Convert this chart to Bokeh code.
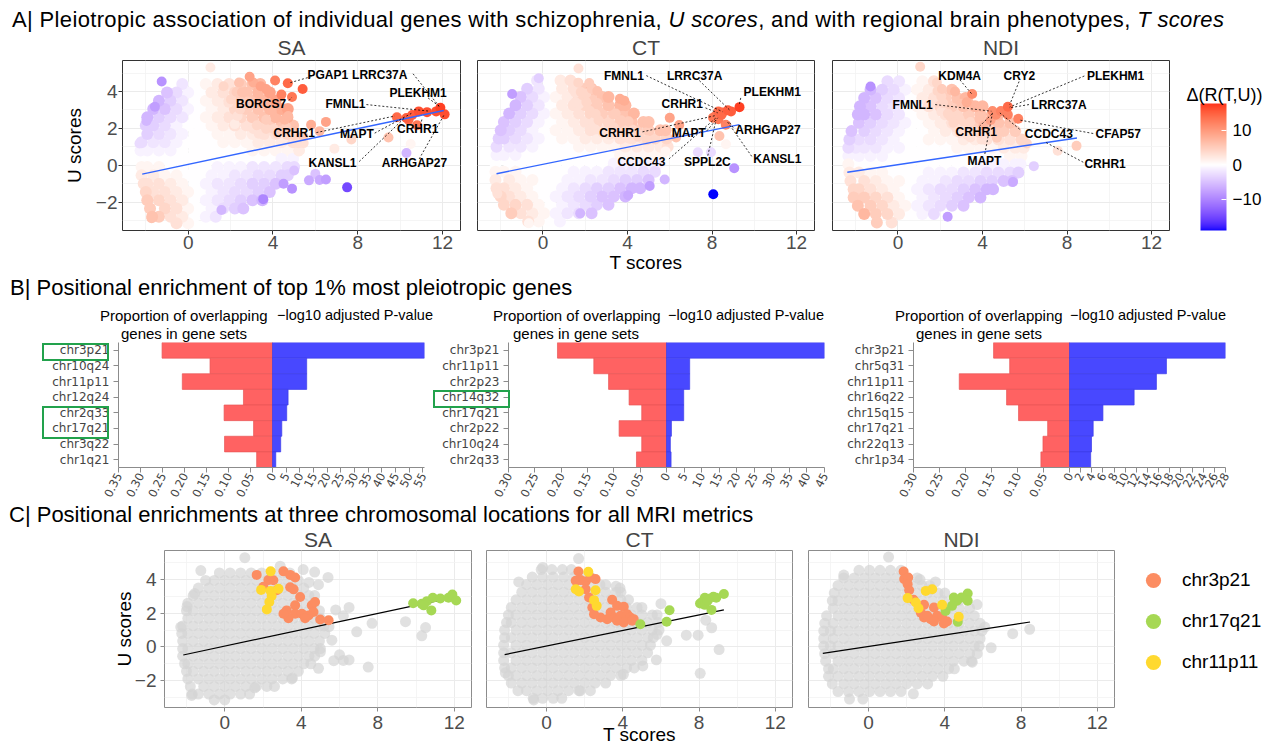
import math
from bokeh.plotting import figure
from bokeh.models import (Range1d, FactorRange, FixedTicker, ColumnDataSource,
                          LinearColorMapper, ColorBar, Legend, LegendItem, Div, Label)
from bokeh.layouts import column, row
from bokeh.core.properties import value
from bokeh.embed import file_html
from bokeh.resources import INLINE

FONT = "Liberation Sans"

# ---------------------------------------------------------------- data: SA
sa_rows_U = [4.4, 3.95, 3.5, 3.05, 2.6, 2.15, 1.7, 1.25, 0.8, 0.35, -0.1, -0.55, -1.0, -1.45, -1.9, -2.35, -2.8, -3.15]
sa_rows_T = [
    [-0.28, 0.28, 0.83, 1.38, 1.93, 2.48, 3.03, 3.4],
    [-1.0, -0.55, 0.0, 0.55, 1.1, 1.65, 2.2, 2.75, 3.3, 3.85],
    [-1.38, -0.83, -0.28, 0.28, 0.83, 1.38, 1.93, 2.48, 3.03, 3.58, 4.13],
    [-1.65, -1.1, -0.55, 0.0, 0.55, 1.1, 1.65, 2.2, 2.75, 3.3, 3.85, 4.4, 4.7],
    [-1.93, -1.38, -0.83, -0.28, 0.28, 0.83, 1.38, 1.93, 2.48, 3.03, 3.58, 4.13, 4.68],
    [-2.0, -1.65, -1.1, -0.55, 0.0, 0.55, 1.1, 1.65, 2.2, 2.75, 3.3, 3.85, 4.4, 4.95],
    [-1.93, -1.38, -0.83, -0.28, 0.28, 0.83, 1.38, 1.93, 2.48, 3.03, 3.58, 4.13, 4.68, 5.0],
    [-2.2, -1.65, -1.1, -0.55, 0.0, 0.55, 1.1, 1.65, 2.2, 2.75, 3.3, 3.85, 4.4, 4.95, 5.2],
    [-2.25, -1.93, -1.38, -0.83, -0.28, 0.28, 0.83, 1.38, 1.93, 2.48, 3.03, 3.58, 4.13, 4.68, 5.23],
    [-2.2, -1.65, -1.1, -0.55, 0.0, 0.55, 1.1, 1.65, 2.2, 2.75, 3.3, 3.85, 4.4, 4.95],
    [-2.2, -1.93, -1.38, -0.83, -0.28, 0.28, 0.83, 1.38, 1.93, 2.48, 3.03, 3.58, 4.13, 4.68, 5.0],
    [-2.2, -1.65, -1.1, -0.55, 0.0, 0.55, 1.1, 1.65, 2.2, 2.75, 3.3, 3.85, 4.4, 4.7],
    [-2.1, -1.93, -1.38, -0.83, -0.28, 0.28, 0.83, 1.38, 1.93, 2.48, 3.03, 3.58, 4.13],
    [-2.0, -1.65, -1.1, -0.55, 0.0, 0.55, 1.1, 1.65, 2.2, 2.75, 3.3, 3.85],
    [-1.93, -1.38, -0.83, -0.28, 0.28, 0.83, 1.38, 1.93, 2.48, 3.03, 3.5],
    [-1.8, -1.1, -0.55, 0.0, 0.55, 1.1, 1.65, 2.2, 2.6],
    [-1.7, -1.38, -0.83, -0.28, 0.28, 0.83, 1.3],
    [-0.55, 0.0],
]
sa_rows_D = [
    [-2, 0, 1, 2, 3, 5, 6, 7],
    [-5, -3, -1, 0, 2, 3, 4, 6, 7, 9],
    [-6, -4, -2, 0, 1, 2, 3, 5, 6, 7, 9],
    [-6, -5, -3, -1, 0, 1, 2, 4, 5, 6, 7, 8, 9],
    [-6, -4, -3, -2, 0, 1, 2, 3, 4, 5, 6, 7, 8],
    [-4, -4, -3, -1, 0, 0, 1, 2, 3, 3, 4, 5, 6, 6],
    [-4, -3, -2, -1, 0, 0, 1, 1, 2, 2, 3, 3, 4, 4],
    [-3, -2, -2, -1, 0, 0, 0, 1, 1, 1, 2, 2, 2, 3, 3],
    [-1, -1, -1, -1, 0, 0, 0, 0, 0, 0, 1, 1, 1, 1, 2],
    [0, 0, 0, 0, 0, 0, 0, 0, 0, 0, 0, 0, -1, -1],
    [1, 1, 1, 0, 0, 0, 0, -1, -1, -1, -2, -2, -2, -3, -3],
    [2, 2, 1, 1, 0, 0, -1, -1, -2, -2, -3, -3, -4, -4],
    [3, 3, 3, 2, 1, 0, -1, -2, -2, -3, -4, -4, -5],
    [4, 3, 3, 2, 1, 0, -1, -2, -3, -3, -4, -5],
    [5, 4, 3, 2, 0, -1, -2, -3, -4, -5, -6],
    [5, 4, 3, 1, 0, -1, -3, -4, -5],
    [6, 5, 3, 2, 0, -1, -2],
    [3, 1],
]
sa_x_T = [1.05, -1.25, 2.9, 4.1, 4.7, 5.4, 4.4, 4.9, 5.8, 6.5, 6.2, 7.7, 9.45, 10.5, 10.3, 7.5,
          5.7, 6.0, 6.5, 6.2, 4.9, 4.5, 3.54, 1.57, 5.0, -1.73, -2.3, -1.97, -1.57, 6.9, 5.45, 5.6]
sa_x_U = [5.3, 4.54, 4.8, 4.6, 4.45, 4.13, 3.83, 3.7, 2.2, 2.35, 1.85, 1.4, 1.5, 1.15, 0.66, -1.2,
          -0.82, -0.47, -0.77, -0.8, -1.27, -1.0, -1.84, -2.43, -0.29, -2.88, 1.18, 2.4, 3.17, 0.9, 1.2, 0.4]
sa_x_D = [2, -9, 9, 12, 14, 15, 12, 13, 8, 9, 7, 4, 6, 1, -6, -15,
          -7, -5, -8, -7, -9, -8, -10, -6, -5, 6, -3, -6, -8, 2, 3, 0]
sa_chr3_T = [1.67, 2.28, 3.07, 3.42, 3.68, 2.02, 2.54, 2.72, 3.42, 3.6, 3.94, 3.68, 3.24, 3.68, 4.03, 4.55, 4.72, 4.64, 4.38, 4.2, 4.99, 5.43, 3.33, 3.07]
sa_chr3_U = [4.28, 3.97, 4.49, 4.28, 4.13, 3.57, 3.96, 3.37, 3.55, 3.42, 2.97, 2.47, 2.17, 1.97, 1.97, 2.47, 2.67, 2.07, 1.87, 1.71, 1.63, 1.58, 1.71, 1.97]
sa_chr3_D = [4, 5, 8, 9, 9, 4, 6, 5, 7, 7, 7, 5, 4, 4, 4, 7, 7, 5, 5, 4, 4, 5, 3, 3]
sa_chr17_T = [9.85, 10.3, 10.57, 10.88, 11.27, 11.7, 11.9, 12.1, 10.8, 10.4]
sa_chr17_U = [2.6, 2.56, 2.72, 2.92, 2.88, 2.92, 3.12, 2.76, 2.17, 2.47]
sa_chr17_D = [14, 15, 15, 16, 16, 16, 17, 16, 13, 14]
sa_chr11_T = [1.9, 2.4, 2.45, 2.33, 2.81, 2.2, 2.4]
sa_chr11_U = [3.39, 3.33, 3.03, 2.67, 3.45, 2.23, 4.49]
sa_chr11_D = [3, 4, 4, 3, 5, 2, 6]
sa_fit_T = [-2.17, 12.06]
sa_fit_U = [-0.48, 2.97]
sa_lab = ["PGAP1", "LRRC37A", "PLEKHM1", "BORCS7", "FMNL1", "CRHR1", "MAPT", "CRHR1", "KANSL1", "ARHGAP27"]
sa_lab_T = [6.59, 9.04, 10.85, 3.44, 7.42, 5.0, 7.96, 10.83, 6.81, 10.68]
sa_lab_U = [4.9, 4.9, 3.92, 3.33, 3.33, 1.77, 1.72, 1.95, 0.125, 0.125]
sa_seg_T0 = [5.82, 10.61, 11.32, 4.76, 8.41, 6.05, 8.8, 10.96, 8.07, 10.9]
sa_seg_U0 = [4.81, 4.96, 3.65, 3.52, 3.29, 1.77, 1.74, 2.16, 0.2, 0.34]
sa_seg_T1 = [4.73, 11.84, 11.84, 4.9, 11.4, 9.75, 10.53, 11.05, 10.22, 12.06]
sa_seg_U1 = [4.45, 3.2, 3.2, 3.7, 2.93, 2.67, 2.81, 2.58, 2.58, 2.7]

# ---------------------------------------------------------------- data: CT
ct_rows_U = [4.6, 4.15, 3.7, 3.25, 2.8, 2.35, 1.9, 1.45, 1.0, 0.55, 0.1, -0.35, -0.8, -1.25, -1.7, -2.15, -2.6, -3.05]
ct_rows_T = [
    [-0.28, 0.28, 0.83, 1.3],
    [-0.75, -0.2, 0.35, 0.9, 1.45, 2.0, 2.3],
    [-1.05, -0.5, 0.05, 0.6, 1.15, 1.7, 2.25, 2.8, 3.1],
    [-1.3, -0.75, -0.2, 0.35, 0.9, 1.45, 2.0, 2.55, 3.1, 3.65, 3.9],
    [-1.6, -1.05, -0.5, 0.05, 0.6, 1.15, 1.7, 2.25, 2.8, 3.35, 3.9, 4.3],
    [-1.85, -1.3, -0.75, -0.2, 0.35, 0.9, 1.45, 2.0, 2.55, 3.1, 3.65, 4.2, 4.75, 5.0],
    [-2.0, -1.6, -1.05, -0.5, 0.05, 0.6, 1.15, 1.7, 2.25, 2.8, 3.35, 3.9, 4.45, 5.0, 5.55, 5.8],
    [-2.1, -1.85, -1.3, -0.75, -0.2, 0.35, 0.9, 1.45, 2.0, 2.55, 3.1, 3.65, 4.2, 4.75, 5.3, 5.85],
    [-2.2, -1.6, -1.05, -0.5, 0.05, 0.6, 1.15, 1.7, 2.25, 2.8, 3.35, 3.9, 4.45, 5.0, 5.55, 5.9],
    [-2.2, -1.85, -1.3, -0.75, -0.2, 0.35, 0.9, 1.45, 2.0, 2.55, 3.1, 3.65, 4.2, 4.75, 5.3, 5.6],
    [-2.25, -1.6, -1.05, -0.5, 0.05, 0.6, 1.15, 1.7, 2.25, 2.8, 3.35, 3.9, 4.45, 5.0, 5.45],
    [-2.25, -1.85, -1.3, -0.75, -0.2, 0.35, 0.9, 1.45, 2.0, 2.55, 3.1, 3.65, 4.2, 4.75, 5.3],
    [-2.25, -1.6, -1.05, -0.5, 0.05, 0.6, 1.15, 1.7, 2.25, 2.8, 3.35, 3.9, 4.45, 5.0],
    [-2.2, -1.85, -1.3, -0.75, -0.2, 0.35, 0.9, 1.45, 2.0, 2.55, 3.1, 3.65, 4.2, 4.6],
    [-2.0, -1.6, -1.05, -0.5, 0.05, 0.6, 1.15, 1.7, 2.25, 2.8, 3.35, 3.9],
    [-1.85, -1.3, -0.75, -0.2, 0.35, 0.9, 1.45, 2.0, 2.55, 3.1],
    [-1.5, -1.05, -0.5, 0.05, 0.6, 1.15, 1.7, 2.3],
    [-0.7, -0.2, 0.35, 0.8],
]
ct_rows_D = [
    [-2, 0, 2, 3],
    [-4, -2, 0, 2, 3, 5, 6],
    [-5, -3, -1, 1, 2, 4, 5, 6, 7],
    [-6, -4, -2, 0, 2, 3, 4, 5, 6, 7, 7],
    [-6, -4, -3, -1, 1, 2, 3, 4, 5, 5, 6, 7],
    [-5, -4, -3, -1, 0, 1, 2, 3, 4, 4, 5, 6, 6, 6],
    [-5, -4, -3, -1, 0, 1, 1, 2, 3, 3, 4, 4, 5, 5, 6, 6],
    [-4, -4, -3, -2, -1, 0, 1, 1, 2, 2, 2, 3, 3, 3, 4, 4],
    [-3, -2, -2, -1, 0, 0, 0, 1, 1, 1, 1, 2, 2, 2, 2, 3],
    [-1, -1, -1, 0, 0, 0, 0, 0, 0, 0, 0, 1, 1, 1, 1, 1],
    [0, 0, 0, 0, 0, 0, 0, 0, 0, 0, -1, -1, -1, -1, -1],
    [1, 1, 1, 0, 0, 0, 0, -1, -1, -1, -2, -2, -2, -3, -3],
    [2, 2, 1, 1, 0, 0, -1, -1, -2, -2, -3, -4, -4, -5],
    [3, 3, 2, 1, 0, 0, -1, -2, -3, -4, -4, -5, -6, -6],
    [4, 3, 2, 1, 0, -1, -2, -3, -4, -5, -5, -6],
    [4, 4, 3, 1, 0, -1, -2, -3, -4, -5],
    [5, 3, 2, 1, -1, -2, -3, -5],
    [3, 1, 0, -1],
]
ct_x_T = [1.68, -1.46, -0.2, 3.64, 3.85, 6.0, 8.35, 8.66, 7.95, 7.33, 9.05, 8.06, 5.05, 4.03, 5.76, 1.76, -2.16, -0.67, 5.8, 6.3]
ct_x_U = [5.25, 3.86, 4.72, 3.6, 3.5, 2.57, 1.59, 1.14, 0.7, 0.7, -0.16, -1.57, -1.13, -1.63, -0.77, -2.61, -1.54, -3.15, 0.75, 0.36]
ct_x_D = [3, -8, -4, 8, 8, 9, 6, 1, -3, -3, -9, -19, -8, -7, -6, -6, 3, 1, 1, 0]
ct_chr3_T = [1.67, 1.53, 1.79, 2.05, 2.31, 2.57, 3.44, 3.7, 4.05, 3.36, 3.53, 3.18, 3.88, 4.23, 4.4, 4.57, 2.83, 2.49, 2.23, 2.05, 2.4, 3.7, 4.05, 4.49]
ct_chr3_U = [4.48, 3.93, 3.97, 3.89, 4.13, 4.03, 2.8, 2.44, 2.38, 2.04, 1.75, 1.65, 1.85, 1.94, 1.75, 1.65, 1.75, 1.94, 2.94, 3.43, 2.34, 1.55, 1.45, 1.55]
ct_chr3_D = [4, 3, 4, 4, 5, 6, 5, 5, 5, 4, 3, 3, 4, 4, 4, 4, 3, 3, 4, 4, 3, 3, 3, 4]
ct_chr17_T = [9.3, 8.9, 8.75, 8.5, 8.3, 8.15, 8.05, 8.3, 8.45, 8.65, 6.45, 6.3, 4.92]
ct_chr17_U = [3.15, 2.92, 2.98, 2.86, 2.92, 2.66, 2.58, 2.5, 2.74, 2.2, 2.18, 1.5, 1.35]
ct_chr17_D = [17, 15, 15, 14, 14, 13, 13, 13, 14, 12, 9, 6, 4]
ct_chr11_T = [2.19, 2.57, 1.7, 2.49, 2.63, 1.53]
ct_chr11_U = [4.46, 3.37, 3.29, 2.78, 2.44, 3.43]
ct_chr11_D = [5, 5, 3, 4, 4, 3]
ct_fit_T = [-2.2, 9.3]
ct_fit_U = [-0.46, 2.2]
ct_lab = ["FMNL1", "LRRC37A", "PLEKHM1", "CRHR1", "CRHR1", "MAPT", "ARHGAP27", "CCDC43", "SPPL2C", "KANSL1"]
ct_lab_T = [3.83, 7.18, 10.85, 6.59, 3.64, 6.9, 10.65, 4.66, 7.78, 11.09]
ct_lab_U = [4.86, 4.86, 3.95, 3.32, 1.77, 1.77, 1.91, 0.16, 0.16, 0.34]
ct_seg_T0 = [4.89, 7.4, 9.36, 7.69, 4.71, 7.75, 9.0, 5.96, 7.8, 9.88]
ct_seg_U0 = [4.86, 4.59, 3.65, 3.11, 1.81, 1.86, 2.04, 0.34, 0.52, 0.48]
ct_seg_T1 = [8.5, 8.89, 9.29, 8.27, 8.19, 8.27, 8.82, 8.19, 8.19, 8.74]
ct_seg_U1 = [2.9, 2.93, 3.29, 2.84, 2.7, 2.57, 2.34, 2.57, 2.45, 2.34]

# ---------------------------------------------------------------- data: NDI
ndi_rows_U = [4.55, 4.1, 3.65, 3.2, 2.75, 2.3, 1.85, 1.4, 0.95, 0.5, 0.05, -0.4, -0.85, -1.3, -1.75, -2.2, -2.65, -3.1]
ndi_rows_T = [
    [-0.5, 0.05, 0.6, 1.15, 1.7],
    [-1.3, -0.75, -0.2, 0.35, 0.9, 1.45, 2.0, 2.55],
    [-1.6, -1.05, -0.5, 0.05, 0.6, 1.15, 1.7, 2.25, 2.8, 3.2],
    [-1.8, -1.3, -0.75, -0.2, 0.35, 0.9, 1.45, 2.0, 2.55, 3.1, 3.65, 4.0],
    [-1.9, -1.6, -1.05, -0.5, 0.05, 0.6, 1.15, 1.7, 2.25, 2.8, 3.35, 3.9, 4.45, 4.75],
    [-1.85, -1.3, -0.75, -0.2, 0.35, 0.9, 1.45, 2.0, 2.55, 3.1, 3.65, 4.2, 4.75, 5.3],
    [-2.2, -1.6, -1.05, -0.5, 0.05, 0.6, 1.15, 1.7, 2.25, 2.8, 3.35, 3.9, 4.45, 5.0, 5.55],
    [-2.3, -1.85, -1.3, -0.75, -0.2, 0.35, 0.9, 1.45, 2.0, 2.55, 3.1, 3.65, 4.2, 4.75, 5.3, 5.85],
    [-2.35, -2.0, -1.6, -1.05, -0.5, 0.05, 0.6, 1.15, 1.7, 2.25, 2.8, 3.35, 3.9, 4.45, 5.0, 5.55, 5.95],
    [-2.35, -1.85, -1.3, -0.75, -0.2, 0.35, 0.9, 1.45, 2.0, 2.55, 3.1, 3.65, 4.2, 4.75, 5.3, 5.85],
    [-2.35, -2.0, -1.6, -1.05, -0.5, 0.05, 0.6, 1.15, 1.7, 2.25, 2.8, 3.35, 3.9, 4.45, 5.0, 5.55, 5.8],
    [-2.3, -1.85, -1.3, -0.75, -0.2, 0.35, 0.9, 1.45, 2.0, 2.55, 3.1, 3.65, 4.2, 4.75, 5.3, 5.7],
    [-2.25, -1.6, -1.05, -0.5, 0.05, 0.6, 1.15, 1.7, 2.25, 2.8, 3.35, 3.9, 4.45, 5.0, 5.4],
    [-2.1, -1.85, -1.3, -0.75, -0.2, 0.35, 0.9, 1.45, 2.0, 2.55, 3.1, 3.65, 4.2, 4.5],
    [-2.1, -1.6, -1.05, -0.5, 0.05, 0.6, 1.15, 1.7, 2.25, 2.8, 3.35, 3.9],
    [-1.9, -1.3, -0.75, -0.2, 0.35, 0.9, 1.45, 2.0, 2.55, 3.1],
    [-1.6, -1.05, -0.5, 0.05, 0.6, 1.15, 1.7],
    [-1.0, -0.3],
]
ndi_rows_D = [
    [-3, -2, 0, 1, 3],
    [-6, -4, -3, -1, 1, 2, 4, 6],
    [-6, -5, -3, -2, 0, 2, 3, 5, 6, 7],
    [-6, -5, -3, -2, 0, 1, 3, 4, 5, 6, 7, 7],
    [-6, -6, -5, -3, -2, 0, 1, 2, 3, 4, 5, 6, 7, 7],
    [-5, -4, -3, -2, -1, 0, 1, 2, 3, 4, 5, 5, 6, 6],
    [-5, -4, -3, -2, -1, 0, 0, 1, 2, 2, 3, 4, 4, 5, 5],
    [-4, -3, -3, -2, -1, 0, 0, 1, 1, 1, 2, 2, 3, 3, 3, 4],
    [-3, -2, -2, -2, -1, -1, 0, 0, 0, 0, 1, 1, 1, 1, 2, 2, 2],
    [-1, -1, -1, -1, 0, 0, 0, 0, 0, 0, 0, 0, 0, 0, 1, 1],
    [1, 0, 0, 0, 0, 0, 0, 0, 0, 0, 0, 0, -1, -1, -1, -1, -1],
    [2, 2, 1, 1, 0, 0, 0, -1, -1, -1, -2, -2, -3, -3, -3, -4],
    [3, 3, 2, 1, 1, 0, -1, -1, -2, -3, -3, -4, -4, -5, -5],
    [4, 4, 3, 2, 1, 0, -1, -2, -3, -3, -4, -5, -6, -6],
    [5, 5, 4, 3, 1, 0, -1, -2, -3, -4, -5, -6],
    [6, 5, 4, 2, 1, -1, -2, -3, -4, -5],
    [7, 5, 4, 2, 0, -1, -3],
    [5, 3],
]
ndi_x_T = [1.05, -1.3, 3.51, 5.69, 6.1, 8.45, 6.43, 5.44, 2.35, 7.56, 3.25, 2.7]
ndi_x_U = [5.34, 4.27, 3.86, 2.52, 1.18, 1.05, -0.05, -0.91, -2.79, 0.79, 3.41, 4.0]
ndi_x_D = [4, -9, 11, 12, 4, 5, -4, -7, -8, 3, 8, 7]
ndi_chr3_T = [1.84, 1.87, 2.08, 2.05, 2.13, 2.36, 2.91, 2.74, 2.91, 3.26, 3.43, 3.6, 3.86, 4.12, 3.95, 3.08, 3.43]
ndi_chr3_U = [4.48, 4.03, 4.13, 3.73, 3.37, 2.8, 2.5, 2.04, 1.75, 1.65, 2.34, 1.85, 1.75, 1.51, 1.39, 1.85, 1.51]
ndi_chr3_D = [4, 4, 5, 4, 4, 4, 4, 3, 3, 3, 4, 4, 4, 3, 3, 3, 3]
ndi_chr17_T = [5.2, 4.87, 4.47, 4.64, 4.38, 5.2, 4.04, 4.68]
ndi_chr17_U = [3.17, 2.94, 2.94, 2.74, 2.44, 2.74, 2.14, 1.49]
ndi_chr17_D = [14, 12, 11, 11, 9, 12, 7, 5]
ndi_chr11_T = [3.34, 3.0, 2.48, 2.62, 3.86, 4.73, 2.05]
ndi_chr11_U = [3.43, 3.33, 2.64, 2.3, 2.5, 1.79, 2.9]
ndi_chr11_D = [7, 6, 4, 4, 6, 5, 3]
ndi_fit_T = [-2.4, 8.47]
ndi_fit_U = [-0.38, 1.48]
ndi_lab = ["KDM4A", "CRY2", "PLEKHM1", "FMNL1", "LRRC37A", "CRHR1", "CCDC43", "CFAP57", "MAPT", "CRHR1"]
ndi_lab_T = [2.92, 5.74, 10.3, 0.69, 7.62, 3.7, 7.14, 10.42, 4.09, 9.8]
ndi_lab_U = [4.86, 4.86, 4.86, 3.29, 3.25, 1.82, 1.68, 1.72, 0.25, 0.07]
ndi_seg_T0 = [2.93, 5.73, 8.82, 1.76, 6.2, 3.84, 5.76, 9.24, 4.11, 8.77]
ndi_seg_U0 = [4.63, 4.54, 4.84, 3.29, 3.29, 2.09, 1.95, 1.72, 0.61, 0.16]
ndi_seg_T1 = [3.48, 5.29, 5.29, 4.42, 5.26, 4.5, 4.82, 5.76, 4.47, 7.01]
ndi_seg_U1 = [3.88, 3.29, 3.16, 2.93, 3.11, 2.84, 2.84, 2.45, 2.84, 1.23]

# ---------------------------------------------------------------- data: B
b_sa_loci = ["chr3p21", "chr10q24", "chr11p11", "chr12q24", "chr2q33", "chr17q21", "chr3q22", "chr1q21"]
b_sa_prop = [0.251, 0.142, 0.205, 0.066, 0.110, 0.043, 0.109, 0.036]
b_sa_logp = [55.6, 12.5, 12.5, 5.7, 5.2, 3.4, 3.0, 1.2]
b_ct_loci = ["chr3p21", "chr11p11", "chr2p23", "chr14q32", "chr17q21", "chr2p22", "chr10q24", "chr2q33"]
b_ct_prop = [0.207, 0.138, 0.110, 0.071, 0.047, 0.090, 0.047, 0.057]
b_ct_logp = [45.0, 6.6, 6.6, 4.9, 4.9, 1.4, 1.1, 1.3]
b_ndi_loci = ["chr3p21", "chr5q31", "chr11p11", "chr16q22", "chr15q15", "chr17q21", "chr22q13", "chr1p34"]
b_ndi_prop = [0.146, 0.115, 0.212, 0.121, 0.098, 0.042, 0.051, 0.055]
b_ndi_logp = [28.0, 17.4, 15.6, 11.6, 6.0, 4.25, 3.95, 3.8]
b_sa_prop_ticks = [0.35, 0.3, 0.25, 0.2, 0.15, 0.1, 0.05]
b_sa_logp_ticks = [0, 5, 10, 15, 20, 25, 30, 35, 40, 45, 50, 55]
b_ct_prop_ticks = [0.3, 0.25, 0.2, 0.15, 0.1, 0.05]
b_ct_logp_ticks = [0, 5, 10, 15, 20, 25, 30, 35, 40, 45]
b_ndi_prop_ticks = [0.3, 0.25, 0.2, 0.15, 0.1, 0.05]
b_ndi_logp_ticks = [0, 2, 4, 6, 8, 10, 12, 14, 16, 18, 20, 22, 24, 26, 28]
b_sa_marked = [["chr3p21"], ["chr2q33", "chr17q21"]]
b_ct_marked = [["chr14q32"]]

loci_names = ["chr3p21", "chr17q21", "chr11p11"]
loci_colors = ["#FC8D62", "#A6D854", "#FFD92F"]


# ---------------------------------------------------------------- colour scale (Lab interpolation)
def _lin(c):
    c = c / 255.0
    return c / 12.92 if c <= 0.04045 else ((c + 0.055) / 1.055) ** 2.4


def _gam(c):
    c = 12.92 * c if c <= 0.0031308 else 1.055 * (max(c, 0) ** (1 / 2.4)) - 0.055
    return int(round(max(0.0, min(1.0, c)) * 255))


def rgb2lab(rgb):
    r, g, b = [_lin(v) for v in rgb]
    X = (0.4124564 * r + 0.3575761 * g + 0.1804375 * b) / 0.95047
    Y = (0.2126729 * r + 0.7151522 * g + 0.0721750 * b)
    Z = (0.0193339 * r + 0.1191920 * g + 0.9503041 * b) / 1.08883
    f = lambda t: t ** (1 / 3) if t > 216 / 24389 else (24389 / 27 * t + 16) / 116
    fx, fy, fz = f(X), f(Y), f(Z)
    return (116 * fy - 16, 500 * (fx - fy), 200 * (fy - fz))


def lab2hex(L, a, b):
    fy = (L + 16) / 116
    fx = fy + a / 500
    fz = fy - b / 200
    finv = lambda t: t ** 3 if t ** 3 > 216 / 24389 else (116 * t - 16) / (24389 / 27)
    X = finv(fx) * 0.95047
    Y = finv(fy)
    Z = finv(fz) * 1.08883
    r = 3.2404542 * X - 1.5371385 * Y - 0.4985314 * Z
    g = -0.9692660 * X + 1.8760108 * Y + 0.0415560 * Z
    bb = 0.0556434 * X - 0.2040259 * Y + 1.0572252 * Z
    return "#%02x%02x%02x" % (_gam(r), _gam(g), _gam(bb))


D_LOW, D_HIGH, D_SPAN = -19.1, 17.7, 19.1
W_LAB, R_LAB, B_LAB = rgb2lab((255, 255, 255)), rgb2lab((255, 0, 0)), rgb2lab((0, 0, 255))
palette = []
for i in range(256):
    v = D_LOW + (D_HIGH - D_LOW) * i / 255
    t = min(1.0, abs(v) / D_SPAN)
    end = R_LAB if v > 0 else B_LAB
    palette.append(lab2hex(*[w + (e - w) * t for w, e in zip(W_LAB, end)]))
mapper = LinearColorMapper(palette=palette, low=D_LOW, high=D_HIGH)


# ---------------------------------------------------------------- helpers
def flatten_rows(rows_U, rows_T, rows_D):
    T, U, D = [], [], []
    for u, ts, ds in zip(rows_U, rows_T, rows_D):
        n = min(len(ts), len(ds))
        T.extend(ts[:n])
        U.extend([u] * n)
        D.extend(ds[:n])
    return T, U, D


def sorted_src(T, U, D):
    idx = sorted(range(len(T)), key=lambda i: abs(D[i]))
    return ColumnDataSource(dict(T=[T[i] for i in idx], U=[U[i] for i in idx], D=[D[i] for i in idx]))


def style_scatter(p, border, show_y, lab_standoff, ylab_standoff, xlab_standoff, title_standoff):
    xt = FixedTicker(ticks=[0, 4, 8, 12], minor_ticks=[-2, 2, 6, 10])
    yt = FixedTicker(ticks=[-2, 0, 2, 4], minor_ticks=[-3, -1, 1, 3, 5])
    p.xaxis.ticker = xt
    p.yaxis.ticker = yt
    p.xgrid.ticker = xt
    p.ygrid.ticker = yt
    for g in (p.xgrid, p.ygrid):
        g.grid_line_color = "#EBEBEB"
        g.grid_line_width = 1
        g.minor_grid_line_color = "#F3F3F3"
        g.minor_grid_line_width = 0.8
    p.outline_line_color = border
    p.outline_line_width = 1
    p.border_fill_color = None
    for ax in (p.xaxis, p.yaxis):
        ax.axis_line_color = None
        ax.major_tick_out = 4
        ax.major_tick_in = 0
        ax.minor_tick_out = 0
        ax.minor_tick_in = 0
        ax.major_tick_line_color = border
        ax.major_label_text_font = FONT
        ax.major_label_text_font_size = "19px"
        ax.major_label_text_color = "#4D4D4D"
        ax.major_label_standoff = lab_standoff
        ax.axis_label_text_font = FONT
        ax.axis_label_text_font_size = "19px"
        ax.axis_label_text_font_style = "normal"
        ax.axis_label_text_color = "black"
    p.yaxis.major_label_overrides = {-2: "−2"}
    p.yaxis.axis_label_standoff = ylab_standoff
    p.xaxis.axis_label_standoff = xlab_standoff
    if not show_y:
        p.yaxis.visible = False
    p.title.align = "center"
    p.title.text_font = FONT
    p.title.text_font_size = "21px"
    p.title.text_font_style = "normal"
    p.title.standoff = title_standoff
    p.title.offset = 0


def a_fig(name, fw, lb, rb, show_y, xlabel, d):
    p = figure(frame_width=fw, frame_height=170, x_range=Range1d(-3.1, 12.85), y_range=Range1d(-3.54, 5.68),
               min_border_left=lb, min_border_right=rb, min_border_top=27, min_border_bottom=47,
               output_backend="svg", toolbar_location=None, title=name)
    style_scatter(p, "#333333", show_y, 1, 8, 0, 3)
    if show_y:
        p.yaxis.axis_label = "U scores"
    if xlabel:
        p.xaxis.axis_label = "T scores"
    cT, cU, cD = flatten_rows(*d["rows"])
    p.scatter("T", "U", source=sorted_src(cT, cU, cD), size=12, line_color=None,
              fill_color={"field": "D", "transform": mapper})
    hT, hU, hD = [], [], []
    for key in ("extra", "chr3", "chr17", "chr11"):
        hT += d[key][0]
        hU += d[key][1]
        hD += d[key][2]
    p.scatter("T", "U", source=sorted_src(hT, hU, hD), size=10, line_color=None,
              fill_color={"field": "D", "transform": mapper})
    p.line(d["fit"][0], d["fit"][1], line_color="#3366FF", line_width=1.4)
    lab, lT, lU, s0T, s0U, s1T, s1U = d["labels"]
    p.segment(x0=s0T, y0=s0U, x1=s1T, y1=s1U, line_color="black", line_width=0.8, line_dash="2 2")
    p.text(x=lT, y=lU, text=lab, text_font=value(FONT), text_font_style="bold", text_font_size="12px",
           text_align="center", text_baseline="middle", text_color="black")
    return p


def c_fig(name, fw, lb, rb, show_y, xlabel, d):
    p = figure(frame_width=fw, frame_height=157, x_range=Range1d(-3.15, 12.9), y_range=Range1d(-3.6, 5.73),
               min_border_left=lb, min_border_right=rb, min_border_top=24, min_border_bottom=44,
               output_backend="svg", toolbar_location=None, title=name)
    style_scatter(p, "#8C8C8C", show_y, 4, -3, -8, 0)
    if show_y:
        p.yaxis.axis_label = "U scores"
    if xlabel:
        p.xaxis.axis_label = "T scores"
    cT, cU, cD = flatten_rows(*d["rows"])
    gT = cT + d["extra"][0]
    gU = cU + d["extra"][1]
    p.scatter(gT, gU, size=11, fill_color="#D4D4D4", fill_alpha=0.7, line_color=None)
    p.line(d["fit"][0], d["fit"][1], line_color="black", line_width=1.2)
    rends = []
    for key, col in zip(("chr3", "chr17", "chr11"), loci_colors):
        rends.append(p.scatter(d[key][0], d[key][1], size=10, fill_color=col, line_color=None))
    return p, rends


metrics = {
    "SA": dict(rows=(sa_rows_U, sa_rows_T, sa_rows_D), extra=(sa_x_T, sa_x_U, sa_x_D),
               chr3=(sa_chr3_T, sa_chr3_U, sa_chr3_D), chr17=(sa_chr17_T, sa_chr17_U, sa_chr17_D),
               chr11=(sa_chr11_T, sa_chr11_U, sa_chr11_D), fit=(sa_fit_T, sa_fit_U),
               labels=(sa_lab, sa_lab_T, sa_lab_U, sa_seg_T0, sa_seg_U0, sa_seg_T1, sa_seg_U1)),
    "CT": dict(rows=(ct_rows_U, ct_rows_T, ct_rows_D), extra=(ct_x_T, ct_x_U, ct_x_D),
               chr3=(ct_chr3_T, ct_chr3_U, ct_chr3_D), chr17=(ct_chr17_T, ct_chr17_U, ct_chr17_D),
               chr11=(ct_chr11_T, ct_chr11_U, ct_chr11_D), fit=(ct_fit_T, ct_fit_U),
               labels=(ct_lab, ct_lab_T, ct_lab_U, ct_seg_T0, ct_seg_U0, ct_seg_T1, ct_seg_U1)),
    "NDI": dict(rows=(ndi_rows_U, ndi_rows_T, ndi_rows_D), extra=(ndi_x_T, ndi_x_U, ndi_x_D),
                chr3=(ndi_chr3_T, ndi_chr3_U, ndi_chr3_D), chr17=(ndi_chr17_T, ndi_chr17_U, ndi_chr17_D),
                chr11=(ndi_chr11_T, ndi_chr11_U, ndi_chr11_D), fit=(ndi_fit_T, ndi_fit_U),
                labels=(ndi_lab, ndi_lab_T, ndi_lab_U, ndi_seg_T0, ndi_seg_U0, ndi_seg_T1, ndi_seg_U1)),
}


def text_div(w, h, items, raw=""):
    parts = []
    for it in items:
        txt, x, top, size, extra = it
        parts.append('<span style="position:absolute;left:%dpx;top:%dpx;font-size:%spx;line-height:1;'
                     'white-space:nowrap;%s">%s</span>' % (x, top, size, extra, txt))
    html = ('<div style="position:relative;width:%dpx;height:%dpx;overflow:visible;'
            'font-family:\'Liberation Sans\',Arial,sans-serif;color:#000;">' % (w, h)) + "".join(parts) + raw + "</div>"
    return Div(text=html, width=w, height=h, margin=(0, 0, 0, 0), styles={"overflow": "visible"})


B_FRAME_H = 125


def b_fig(loci, prop, logp, pticks, lticks, P, L, wl, wr, lb, rb):
    # one frame: proportion half (reversed, left) and -log10 P half (right) meeting at 0
    k = L * wl / (P * wr)
    ppos = [round(-v * k, 9) for v in pticks]
    p = figure(frame_width=wl + wr, frame_height=B_FRAME_H,
               x_range=Range1d(min(ppos) - 1e-6, L), y_range=FactorRange(factors=list(reversed(loci))),
               min_border_left=lb, min_border_right=rb, min_border_top=2, min_border_bottom=34,
               output_backend="svg", toolbar_location=None)
    p.extra_x_ranges = {"prop": Range1d(P, -P * wr / wl)}
    p.hbar(y=loci, left=0, right=prop, height=1.0, x_range_name="prop",
           fill_color="#FF6262", line_color="#E85656", line_width=0.7)
    p.hbar(y=loci, left=0, right=logp, height=1.0,
           fill_color="#4848FF", line_color="#3C3CE8", line_width=0.7)
    overrides = {pos: "%.2f" % v for pos, v in zip(ppos, pticks)}
    p.xaxis.ticker = FixedTicker(ticks=ppos + lticks)
    p.xaxis.major_label_overrides = overrides
    p.grid.visible = False
    p.outline_line_color = None
    p.border_fill_color = None
    for ax in (p.xaxis, p.yaxis):
        ax.axis_line_color = "#8C8C8C"
        ax.major_tick_line_color = "#8C8C8C"
        ax.major_tick_out = 5
        ax.major_tick_in = 0
        ax.minor_tick_out = 0
        ax.minor_tick_in = 0
        ax.major_label_text_font = "DejaVu Sans"
        ax.major_label_text_font_size = "11.5px"
        ax.major_label_text_color = "#444444"
    p.xaxis.major_label_orientation = 1.1
    p.xaxis.major_label_standoff = 1
    p.yaxis.major_label_standoff = 4
    p.yaxis.major_label_text_font_size = "12px"
    return p


# ---------------------------------------------------------------- panel A
a_sa = a_fig("SA", 338, 122, 8, True, False, metrics["SA"])
a_ct = a_fig("CT", 337, 9, 9, False, True, metrics["CT"])
a_ndi = a_fig("NDI", 337, 9, 8, False, False, metrics["NDI"])

# colour bar legend of panel A: own small canvas (frame aligned with the A frames)
a_cb = figure(frame_width=88, frame_height=170, x_range=Range1d(0, 1), y_range=Range1d(0, 1),
              min_border_left=7, min_border_right=0, min_border_top=27, min_border_bottom=47,
              output_backend="svg", toolbar_location=None)
a_cb.xaxis.visible = False
a_cb.yaxis.visible = False
a_cb.grid.visible = False
a_cb.outline_line_color = None
a_cb.border_fill_color = None
a_cb.background_fill_color = None
cbar = ColorBar(color_mapper=mapper, ticker=FixedTicker(ticks=[-10, 0, 10]),
                major_label_overrides={-10: "−10"}, width=26, height=127, location=(16, 0),
                padding=0, margin=0, label_standoff=6, major_label_text_font=FONT,
                major_label_text_font_size="17px", major_label_text_color="black",
                major_tick_line_color="white", major_tick_in=5, major_tick_out=0,
                bar_line_color=None, background_fill_color=None, border_line_color=None)
a_cb.add_layout(cbar)
a_cb.add_layout(Label(x=0.023, y=0.8, text="Δ(R(T,U))", text_font=FONT, text_font_size="18px",
                      text_color="black", text_align="left", text_baseline="alphabetic"))

# ---------------------------------------------------------------- panel B
b1 = b_fig(b_sa_loci, b_sa_prop, b_sa_logp, b_sa_prop_ticks, b_sa_logp_ticks, 0.35, 55.6, 154, 152, 118, 6)
b2 = b_fig(b_ct_loci, b_ct_prop, b_ct_logp, b_ct_prop_ticks, b_ct_logp_ticks, 0.30, 45, 158, 158, 78, 11)
b3 = b_fig(b_ndi_loci, b_ndi_prop, b_ndi_logp, b_ndi_prop_ticks, b_ndi_logp_ticks, 0.30, 28, 156, 156, 78, 47)

# ---------------------------------------------------------------- panel C
c_sa, _ = c_fig("SA", 307, 164, 7, True, False, metrics["SA"])
c_ct, _ = c_fig("CT", 306, 8, 8, False, True, metrics["CT"])
c_ndi, c_rends = c_fig("NDI", 306, 8, 158, False, False, metrics["NDI"])
legend = Legend(items=[LegendItem(label=n, renderers=[r]) for n, r in zip(loci_names, c_rends)],
                location="top_left", margin=11, padding=0, glyph_width=56, glyph_height=38,
                label_height=38, label_standoff=1, spacing=3, label_text_font=FONT,
                label_text_font_size="19px", label_text_color="black",
                border_line_color=None, background_fill_color=None)
c_ndi.add_layout(legend, "right")

# ---------------------------------------------------------------- headings
DIV_A_H, DIV_B_H, DIV_C_H = 32, 63, 22
div_a = text_div(1272, DIV_A_H, [
    ("A| Pleiotropic association of individual genes with schizophrenia, <i>U scores</i>, and with "
     "regional brain phenotypes, <i>T scores</i>", 12, 9, 22, "letter-spacing:0.35px;")])
div_b = text_div(1272, DIV_B_H, [
    ("B| Positional enrichment of top 1% most pleiotropic genes", 10, 0, 22, ""),
    ("Proportion of overlapping", 100, 31, 15, ""),
    ("genes in gene sets", 121, 49, 15, ""),
    ("−log10 adjusted P-value", 277, 31, 14.5, ""),
    ("Proportion of overlapping", 493, 31, 15, ""),
    ("genes in gene sets", 513, 49, 15, ""),
    ("−log10 adjusted P-value", 668, 31, 14.5, ""),
    ("Proportion of overlapping", 895, 31, 15, ""),
    ("genes in gene sets", 916, 49, 15, ""),
    ("−log10 adjusted P-value", 1070, 31, 14.5, ""),
])

# green frames around highlighted locus labels of panel B (drawn as HTML boxes over the B row)
band = B_FRAME_H / 8.0
b_frame_top_rel = -(2 + B_FRAME_H + 34) + 2   # frame top relative to the C heading block
boxes_html = ""
for loci, marked, x0, w in ((b_sa_loci, b_sa_marked, 42, 67), (b_ct_loci, b_ct_marked, 433, 77)):
    for grp in marked:
        i0 = loci.index(grp[0])
        top = b_frame_top_rel + i0 * band - 1
        h = len(grp) * band + 2
        boxes_html += ('<div style="position:absolute;left:%dpx;top:%.1fpx;width:%dpx;height:%.1fpx;'
                       'border:2.5px solid #22A24C;box-sizing:border-box;"></div>' % (x0, top, w, h))
div_c = text_div(1272, DIV_C_H, [
    ("C| Positional enrichments at three chromosomal locations for all MRI metrics", 9, 1, 22, "")],
    raw=boxes_html)

layout = column(div_a, row(a_sa, a_ct, a_ndi, a_cb), div_b, row(b1, b2, b3),
                div_c, row(c_sa, c_ct, c_ndi))

open("out.html", "w").write(file_html(layout, INLINE))
